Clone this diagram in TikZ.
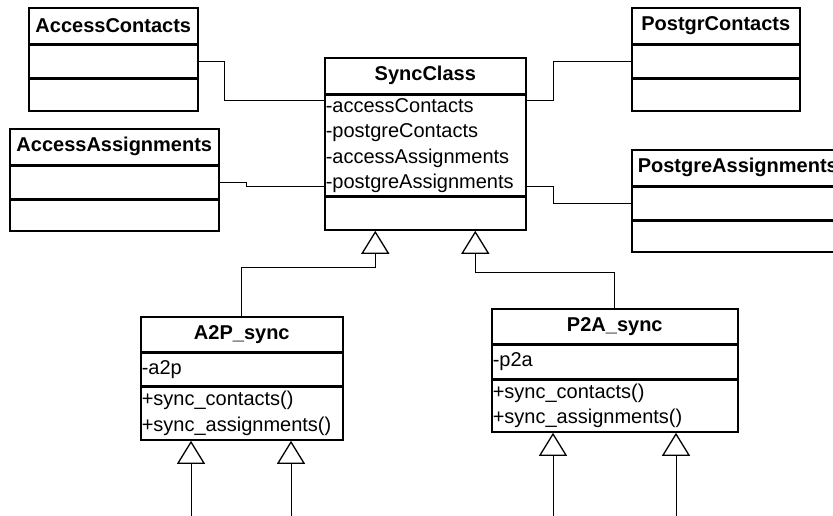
\documentclass[tikz,border=0pt]{standalone}
\usepackage{fontspec}
\setmainfont{Liberation Sans}
\usetikzlibrary{arrows.meta}

\begin{document}
\begin{tikzpicture}[x=1pt, y=-1pt, font=\fontsize{20}{25.5}\selectfont]
\tikzstyle{head} = [rectangle, draw=black, line width=1.6pt, anchor=north west, inner sep=0pt, font=\fontsize{20}{25.5}\selectfont\bfseries]
\tikzstyle{part} = [rectangle, draw=black, line width=1.6pt, anchor=north west, inner xsep=1pt, inner ysep=0pt, align=left]
\tikzstyle{assoc} = [draw=black, line width=0.9pt]
\tikzstyle{inherit} = [draw=black, line width=0.9pt, -{Triangle[open, length=23pt, width=28pt, line width=1.3pt]}]
\useasboundingbox (0,0) rectangle (833,516);
\node (AC_0) at (28,7) [head, minimum width=169pt, minimum height=36pt] {AccessContacts};
\node (AC_1) at (AC_0.south west) [part, text width=167pt, minimum height=32pt] {};
\node (AC_2) at (AC_1.south west) [part, text width=167pt, minimum height=32pt] {};
\node (AA_0) at (9,128) [head, minimum width=209pt, minimum height=36pt] {AccessAssignments};
\node (AA_1) at (AA_0.south west) [part, text width=207pt, minimum height=32pt] {};
\node (AA_2) at (AA_1.south west) [part, text width=207pt, minimum height=31pt] {};
\node (S_0) at (324,57) [head, minimum width=201pt, minimum height=36pt] {SyncClass};
\node (S_1) at (S_0.south west) [part, text width=199pt, minimum height=100pt] {-accessContacts\\-postgreContacts\\-accessAssignments\\-postgreAssignments};
\node (S_2) at (S_1.south west) [part, text width=199pt, minimum height=33pt] {};
\node (PC_0) at (631,7) [head, minimum width=168pt, minimum height=36pt] {PostgrContacts};
\node (PC_1) at (PC_0.south west) [part, text width=166pt, minimum height=32pt] {};
\node (PC_2) at (PC_1.south west) [part, text width=166pt, minimum height=32pt] {};
\node (PA_0) at (631,149) [head, minimum width=212pt, minimum height=36pt] {PostgreAssignments};
\node (PA_1) at (PA_0.south west) [part, text width=210pt, minimum height=32pt] {};
\node (PA_2) at (PA_1.south west) [part, text width=210pt, minimum height=31pt] {};
\node (A2P_0) at (140,316) [head, minimum width=202pt, minimum height=35pt] {A2P\_sync};
\node (A2P_1) at (A2P_0.south west) [part, text width=200pt, minimum height=32pt] {-a2p};
\node (A2P_2) at (A2P_1.south west) [part, text width=200pt, minimum height=53pt] {+sync\_contacts()\\+sync\_assignments()};
\node (P2A_0) at (491,308) [head, minimum width=246pt, minimum height=35pt] {P2A\_sync};
\node (P2A_1) at (P2A_0.south west) [part, text width=244pt, minimum height=33pt] {-p2a};
\node (P2A_2) at (P2A_1.south west) [part, text width=244pt, minimum height=52pt] {+sync\_contacts()\\+sync\_assignments()};
% associations
\draw[assoc] (AC_1.east) -- ++(26,0) |- ([yshift=-6pt]S_1.north west);
\draw[assoc] (AA_1.east) -- ++(27,0) |- ([yshift=10pt]S_1.south west);
\draw[assoc] ([yshift=-6pt]S_1.north east) -- ++(27,0) |- (PC_1.west);
\draw[assoc] ([yshift=10pt]S_1.south east) -- ++(27,0) |- (PA_1.west);
% generalizations
\draw[inherit] (A2P_0.north) -- (A2P_0.north |- 0,267) -| ([xshift=-50pt]S_2.south);
\draw[inherit] (P2A_0.north) -- (P2A_0.north |- 0,272) -| ([xshift=50pt]S_2.south);
\coordinate (e1) at (191,516);
\coordinate (e2) at (291,516);
\coordinate (e3) at (553,516);
\coordinate (e4) at (676,516);
\draw[inherit] (e1) -- (e1 |- A2P_2.south);
\draw[inherit] (e2) -- (e2 |- A2P_2.south);
\draw[inherit] (e3) -- (e3 |- P2A_2.south);
\draw[inherit] (e4) -- (e4 |- P2A_2.south);
\end{tikzpicture}
\end{document}
